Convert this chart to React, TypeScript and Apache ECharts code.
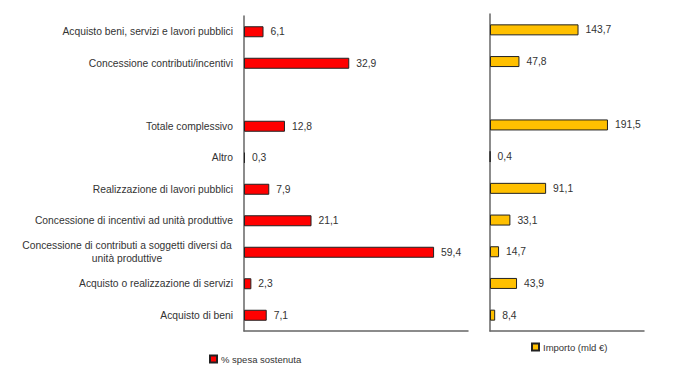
import React, { useEffect, useRef } from "react";
import * as echarts from "echarts";

const categories = [
  "Acquisto beni, servizi e lavori pubblici",
  "Concessione contributi/incentivi",
  "",
  "Totale complessivo",
  "Altro",
  "Realizzazione di lavori pubblici",
  "Concessione di incentivi ad unità produttive",
  "Concessione di contributi a soggetti diversi da\nunità produttive",
  "Acquisto o realizzazione di servizi",
  "Acquisto di beni",
];
const spesaSostenuta = [6.1, 32.9, null, 12.8, 0.3, 7.9, 21.1, 59.4, 2.3, 7.1];
const importo = [143.7, 47.8, null, 191.5, 0.4, 91.1, 33.1, 14.7, 43.9, 8.4];
const seriesNames = ["% spesa sostenuta", "Importo (mld €)"];

const FONT = "Liberation Sans, Arial, sans-serif";
const fmt = (p: any) =>
  p.value == null ? "" : Number(p.value).toFixed(1).replace(".", ",");

export default function App() {
  const ref = useRef<HTMLDivElement>(null);
  useEffect(() => {
    if (!ref.current) return;
    const chart = echarts.init(ref.current, undefined, { renderer: "svg" });
    const axisLine = { show: true, lineStyle: { color: "#666", width: 1.5 } };
    chart.setOption({
      animation: false,
      textStyle: { fontFamily: FONT },
      grid: [
        { left: 244, right: 232, top: 16, bottom: 34 },
        { left: 490, right: 56, top: 14, bottom: 34 },
      ],
      xAxis: [
        {
          gridIndex: 0,
          type: "value",
          min: 0,
          max: 70,
          axisLine: { ...axisLine, onZero: false },
          axisTick: { show: false },
          axisLabel: { show: false },
          splitLine: { show: false },
        },
        {
          gridIndex: 1,
          type: "value",
          min: 0,
          max: 250,
          axisLine: { ...axisLine, onZero: false },
          axisTick: { show: false },
          axisLabel: { show: false },
          splitLine: { show: false },
        },
      ],
      yAxis: [
        {
          gridIndex: 0,
          type: "category",
          inverse: true,
          data: categories,
          axisLine,
          axisTick: { show: false },
          axisLabel: {
            margin: 11,
            fontSize: 10.3,
            color: "#333",
            fontFamily: FONT,
            lineHeight: 13,
            formatter: (v: string) =>
              v.indexOf("\n") >= 0
                ? v
                    .split("\n")
                    .map((s) => `{w|${s}}`)
                    .join("\n")
                : v,
            rich: {
              w: {
                width: 212,
                align: "center",
                fontSize: 10.3,
                color: "#333",
                fontFamily: FONT,
                lineHeight: 13,
              },
            },
          },
        },
        {
          gridIndex: 1,
          type: "category",
          inverse: true,
          data: categories,
          axisLine,
          axisTick: { show: false },
          axisLabel: { show: false },
        },
      ],
      legend: [
        {
          data: [seriesNames[0]],
          left: 204,
          top: 349,
          icon: "rect",
          itemWidth: 7,
          itemHeight: 7,
          itemGap: 4,
          textStyle: { fontSize: 9.5, color: "#333", fontFamily: FONT, padding: [0, 0, 0, -1] },
        },
        {
          data: [seriesNames[1]],
          left: 526,
          top: 337,
          icon: "rect",
          itemWidth: 7,
          itemHeight: 7,
          itemGap: 4,
          textStyle: { fontSize: 9.5, color: "#333", fontFamily: FONT, padding: [0, 0, 0, -1] },
        },
      ],
      series: [
        {
          name: seriesNames[0],
          type: "bar",
          xAxisIndex: 0,
          yAxisIndex: 0,
          data: spesaSostenuta,
          barWidth: 11,
          itemStyle: { color: "#FF0000", borderColor: "#222", borderWidth: 1 },
          label: {
            show: true,
            position: "right",
            distance: 7,
            fontSize: 10.3,
            color: "#333",
            fontFamily: FONT,
            formatter: fmt,
          },
        },
        {
          name: seriesNames[1],
          type: "bar",
          xAxisIndex: 1,
          yAxisIndex: 1,
          data: importo,
          barWidth: 11,
          itemStyle: { color: "#FFC000", borderColor: "#222", borderWidth: 1 },
          label: {
            show: true,
            position: "right",
            distance: 7,
            fontSize: 10.3,
            color: "#333",
            fontFamily: FONT,
            formatter: fmt,
          },
        },
      ],
    });
    return () => chart.dispose();
  }, []);
  return <div ref={ref} style={{ width: 700, height: 365, position: "absolute", left: 0, top: 0 }} />;
}
